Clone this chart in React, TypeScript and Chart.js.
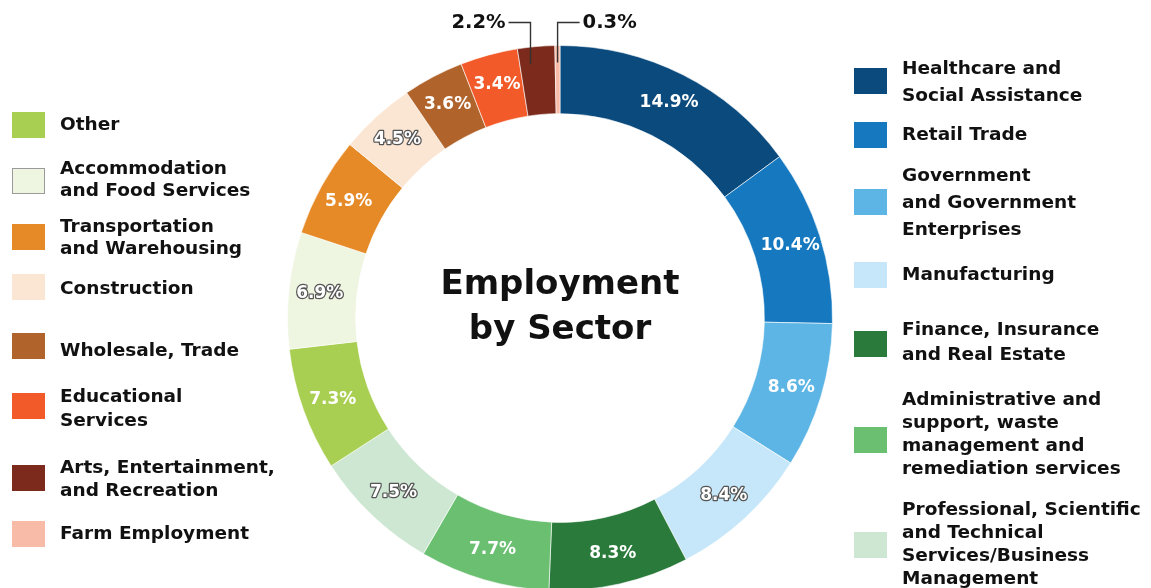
import React, { useEffect, useRef } from "react";
import { Chart, registerables } from "chart.js";

Chart.register(...registerables);

// ---- data ----
const sectors = [
  "Healthcare and\nSocial Assistance",
  "Retail Trade",
  "Government\nand Government\nEnterprises",
  "Manufacturing",
  "Finance, Insurance\nand Real Estate",
  "Administrative and\nsupport, waste\nmanagement and\nremediation services",
  "Professional, Scientific\nand Technical\nServices/Business\nManagement",
  "Other",
  "Accommodation\nand Food Services",
  "Transportation\nand Warehousing",
  "Construction",
  "Wholesale, Trade",
  "Educational\nServices",
  "Arts, Entertainment,\nand Recreation",
  "Farm Employment",
];
const shares = [14.9, 10.4, 8.6, 8.4, 8.3, 7.7, 7.5, 7.3, 6.9, 5.9, 4.5, 3.6, 3.4, 2.2, 0.3];
const titleLines = ["Employment", "by Sector"];
const rightLegend = [0, 1, 2, 3, 4, 5, 6];
const leftLegend = [7, 8, 9, 10, 11, 12, 13, 14];

// ---- styles ----
const colors = [
  "#0b4a7c", "#1679c0", "#5db5e5", "#c6e7f9", "#2a7a3b", "#6abf70", "#cde7d2",
  "#a8cf52", "#eef5e0", "#e68a27", "#fbe5d3", "#b0642b", "#f25a29", "#7b2a1b", "#f8bba7",
];
const outlined = [3, 6, 8, 10];
// leader-labelled slices: [index, direction, fraction along slice]
const leaders = [
  [13, -1, 0.3],
  [14, 1, 0.5],
];
// legend layout: [squareCenterY, textCenterY, lineHeight]
const rightLayout = [
  [80.5, 81, 27], [135, 134, 24], [202, 201, 27], [274.5, 274, 24],
  [343.5, 341, 25], [439.5, 433, 23], [544.5, 543, 23],
];
const leftLayout = [
  [125, 124, 22], [181, 179, 22], [237, 237, 22], [287, 288, 22],
  [346, 350, 22], [406, 408, 24], [478, 478, 23], [534, 533, 22],
];

const FONT = "'DejaVu Sans', 'Noto Sans', sans-serif";

const labelPlugin = {
  id: "sliceLabels",
  afterDatasetsDraw(chart: any) {
    const ctx = chart.ctx;
    const meta = chart.getDatasetMeta(0);
    let cx = 0, cy = 0;
    meta.data.forEach((arc: any, i: number) => {
      const p = arc.getProps(["x", "y", "startAngle", "endAngle", "innerRadius", "outerRadius"], true);
      cx = p.x; cy = p.y;
      const mid = (p.startAngle + p.endAngle) / 2;
      const text = shares[i].toFixed(1) + "%";
      const lead = leaders.find((l) => l[0] === i);
      ctx.save();
      if (lead) {
        const dir = lead[1];
        const ang = p.startAngle + (p.endAngle - p.startAngle) * lead[2];
        const r0 = p.outerRadius - 17;
        const x0 = p.x + Math.cos(ang) * r0;
        const y0 = p.y + Math.sin(ang) * r0;
        const yTop = p.y - p.outerRadius - 23;
        const x1 = x0 + dir * 22;
        ctx.strokeStyle = "#333";
        ctx.lineWidth = 1.4;
        ctx.beginPath();
        ctx.moveTo(x0, y0);
        ctx.lineTo(x0, yTop);
        ctx.lineTo(x1, yTop);
        ctx.stroke();
        ctx.font = `bold 19.5px ${FONT}`;
        ctx.fillStyle = "#111";
        ctx.textBaseline = "middle";
        ctx.textAlign = dir < 0 ? "right" : "left";
        ctx.fillText(text, x1 + dir * 3, yTop);
      } else {
        const r = (p.innerRadius + p.outerRadius) / 2 + 3;
        const x = p.x + Math.cos(mid) * r;
        const y = p.y + Math.sin(mid) * r;
        ctx.font = `bold 17px ${FONT}`;
        ctx.textAlign = "center";
        ctx.textBaseline = "middle";
        if (outlined.includes(i)) {
          ctx.strokeStyle = "#555";
          ctx.lineWidth = 2.5;
          ctx.lineJoin = "round";
          ctx.strokeText(text, x, y);
        }
        ctx.fillStyle = "#ffffff";
        ctx.fillText(text, x, y);
      }
      ctx.restore();
    });
    ctx.save();
    ctx.font = `bold 34px ${FONT}`;
    ctx.fillStyle = "#111";
    ctx.textAlign = "center";
    ctx.textBaseline = "middle";
    ctx.fillText(titleLines[0], cx, cy - 33);
    ctx.fillText(titleLines[1], cx, cy + 12);
    ctx.restore();
  },
};

function LegendItem({ idx, layout, squareX, textX }: any) {
  const [sq, tc, lh] = layout;
  const lines = sectors[idx].split("\n");
  return (
    <>
      <div
        style={{
          position: "absolute",
          left: squareX,
          top: sq - 13,
          width: 33,
          height: 26,
          boxSizing: "border-box",
          background: colors[idx],
          border: idx === 8 ? "1.5px solid #9a9a9a" : "none",
        }}
      />
      <div
        style={{
          position: "absolute",
          left: textX,
          top: tc - (lines.length * lh) / 2,
          lineHeight: lh + "px",
          fontFamily: FONT,
          fontWeight: "bold",
          fontSize: 18.5,
          color: "#111",
          whiteSpace: "nowrap",
        }}
      >
        {lines.map((l, k) => (
          <div key={k}>{l}</div>
        ))}
      </div>
    </>
  );
}

export default function App() {
  const ref = useRef<HTMLCanvasElement>(null);
  useEffect(() => {
    if (!ref.current) return;
    const chart = new Chart(ref.current, {
      type: "doughnut",
      data: {
        labels: sectors.map((s) => s.replace(/\n/g, " ")),
        datasets: [
          {
            data: shares,
            backgroundColor: colors,
            borderColor: "rgba(255,255,255,0.6)",
            borderWidth: 1,
          },
        ],
      },
      options: {
        animation: false,
        responsive: true,
        maintainAspectRatio: false,
        cutout: "75%",
        events: [],
        layout: { padding: { top: 45, bottom: 9, left: 100, right: 100 } },
        plugins: { legend: { display: false }, tooltip: { enabled: false } },
      },
      plugins: [labelPlugin],
    });
    return () => chart.destroy();
  }, []);

  return (
    <div
      style={{
        position: "absolute",
        left: 0,
        top: 0,
        width: 1151,
        height: 588,
        overflow: "hidden",
        background: "#fff",
      }}
    >
      <div style={{ position: "absolute", left: 187, top: 0, width: 746, height: 600 }}>
        <canvas ref={ref} />
      </div>
      {leftLegend.map((idx, k) => (
        <LegendItem key={idx} idx={idx} layout={leftLayout[k]} squareX={12} textX={60} />
      ))}
      {rightLegend.map((idx, k) => (
        <LegendItem key={idx} idx={idx} layout={rightLayout[k]} squareX={854} textX={902} />
      ))}
    </div>
  );
}
